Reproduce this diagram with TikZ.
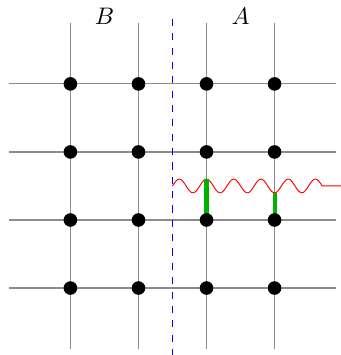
\documentclass[tikz,border=0pt]{standalone}
\begin{document}
\begin{tikzpicture}[
  gridline/.style={black!45, line width=0.5pt},
  dot/.style={circle, fill=black, inner sep=0pt, minimum size=0.2cm},
  cut/.style={blue, dashed},
  wave/.style={red},
  bond/.style={green!70!black, line width=1.7pt}
]
\useasboundingbox (-1.035,-0.984) rectangle (3.965,4.233);
% grid lines
\foreach \i in {0,1,2,3} {
  \draw[gridline] (-0.9,\i) -- (3.9,\i);
  \draw[gridline] (\i,-0.9) -- (\i,3.9);
}
% cut
\coordinate (cb) at (1.5,-1);
\coordinate (ct) at (1.5,4);
\draw[cut] (cb) -- (ct);
% labels
\node (lB) at (0.5,4) {$B$};
\node (lA) at (2.5,4) {$A$};
% wave
\coordinate (wend) at (4,1.5);
\draw[wave] plot[domain=1.5:3.7, samples=200, smooth] (\x,{1.5+0.1*sin(900*(\x-1.5))}) -- (wend);
% bonds
\coordinate (p21) at (2,1);
\coordinate (p31) at (3,1);
\coordinate (g1) at (2,1.6);
\coordinate (g2) at (3,1.4);
\draw[bond] (p21) -- (g1);
\draw[bond] (p31) -- (g2);
% dots
\foreach \i in {0,1,2,3} {
  \foreach \j in {0,1,2,3} {
    \node[dot] (n\i\j) at (\i,\j) {};
  }
}
\end{tikzpicture}
\end{document}
